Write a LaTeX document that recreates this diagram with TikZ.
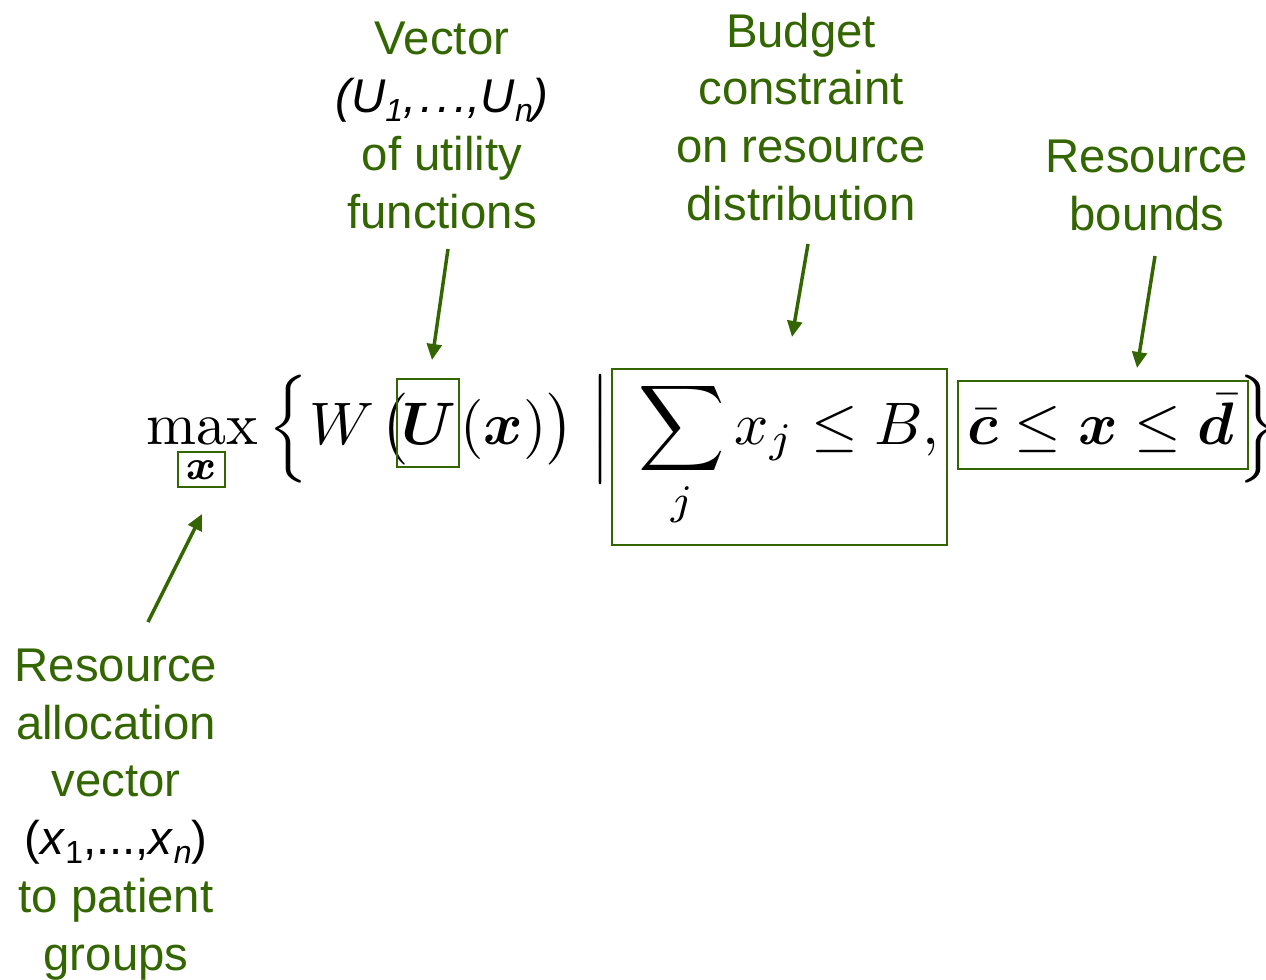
\documentclass[tikz,border=0pt]{standalone}
\usepackage{amsmath}
\usepackage{bm}
\usepackage{fontspec}
\usetikzlibrary{arrows.meta}
\newfontfamily\lab{Liberation Sans}
\definecolor{lg}{HTML}{336600}
\newcommand\lsub[1]{\raisebox{-7pt}{\fontsize{24}{24}\selectfont #1}}
\newcommand\mydelim[1]{{\nulldelimiterspace=0pt\left#1\vcenter to 18pt{}\right.}}
\tikzset{
  lbl/.style={font=\lab\fontsize{35.5}{43.3}\selectfont, text=lg, align=center, anchor=north, inner sep=0pt},
  fm/.style={scale=4.5, inner sep=0pt, anchor=base west},
  fc/.style={scale=4.5, inner sep=0pt, anchor=center},
  gbox/.style={draw=lg, line width=1.5pt},
  garrow/.style={draw=lg, line width=2.6pt, -{Triangle[length=12pt,width=11pt]}},
}
\begin{document}
\begin{tikzpicture}[x=0.75pt,y=-0.75pt]
\useasboundingbox (0,0) rectangle (1266,980);
\clip (0,0) rectangle (1266,980);
% formula
\node[fm] (max) at (145,444) {$\max$};
\node[fc] (subx) at (201,470) {$\scriptstyle\bm{x}$};
\node[fc] (lbrace) at (292,429) {$\mydelim\{$};
\node[fm] (W) at (308,444) {$W$};
\node[fm] (lpar) at (379,444) {$\bigl($};
\node[fm] (U) at (400,444) {$\bm{U}$};
\node[fm] (arg) at (459,444) {$(\bm{x})\bigr)$};
\node[fc] (bar) at (604,429) {$\mydelim|$};
\node[fm] (sum) at (637,444) {$\displaystyle\sum_j x_j\le B,$};
\node[fm] (bounds) at (966,444) {$\bar{\bm{c}}\le\bm{x}\le\bar{\bm{d}}$};
\node[fc] (rbrace) at (1262,429) {$\mydelim\}$};
% boxes
\draw[gbox] (178,452) rectangle (225,487);
\draw[gbox] (397,379) rectangle (459,467);
\draw[gbox] (612,369) rectangle (947,545);
\draw[gbox] (958,381) rectangle (1248,469);
% labels
\node[lbl] (lvec) at (442,22) {Vector\\{\color{black}\itshape (U\lsub{1},\kern3pt.\kern3pt.\kern3pt.,U\lsub{n})}\\of utility\\functions};
\node[lbl] (lbud) at (801,12.6) {Budget\\constraint\\on resource\\distribution};
\node[lbl] (lres) at (1147,139.6) {Resource\\bounds};
\node[lbl] (lalloc) at (116,648.6) {Resource\\allocation\\vector\\{\color{black}(\textit{x}\lsub{1},...,\textit{x}\lsub{\textit{n}})}\\to patient\\groups};
% arrows
\coordinate (t1) at (448,249); \coordinate (h1) at (432,360);
\coordinate (t2) at (808,244); \coordinate (h2) at (792,337);
\coordinate (t3) at (1155,256); \coordinate (h3) at (1137,368);
\coordinate (t4) at (148,622); \coordinate (h4) at (202,514);
\draw[garrow] (t1) -- (h1);
\draw[garrow] (t2) -- (h2);
\draw[garrow] (t3) -- (h3);
\draw[garrow] (t4) -- (h4);
\end{tikzpicture}
\end{document}
